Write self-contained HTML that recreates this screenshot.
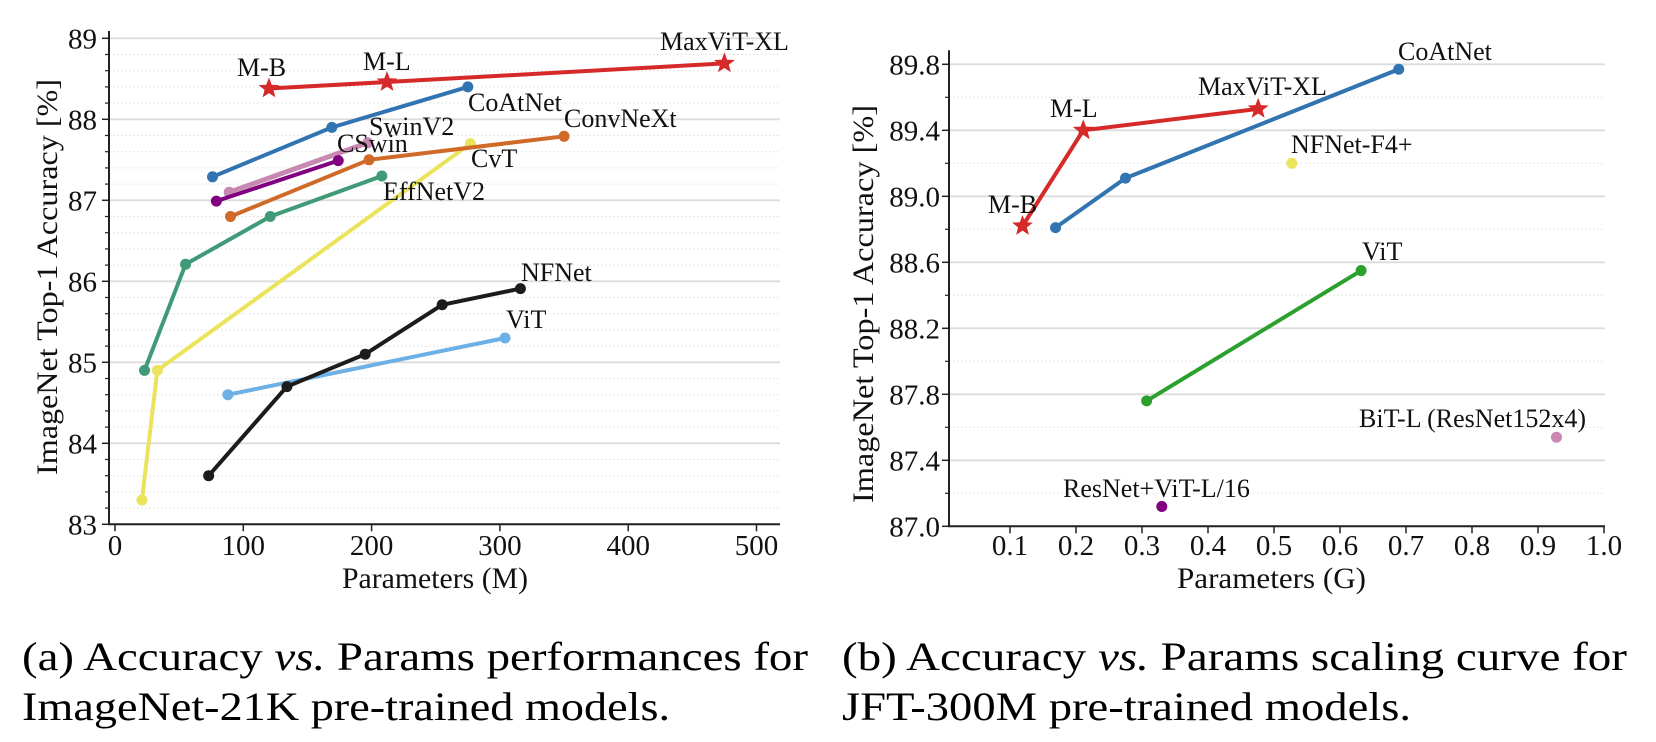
<!DOCTYPE html>
<html><head><meta charset="utf-8"><style>
html,body{margin:0;padding:0;background:#fff;}
svg{display:block;font-family:"Liberation Serif",serif;}
</style></head><body>
<svg id="fig" width="1656" height="742" viewBox="0 0 1656 742" xmlns="http://www.w3.org/2000/svg">
<g id="chartA"></g>
<g id="chartB"></g>
<text x="22" y="670" font-size="40" textLength="786" lengthAdjust="spacingAndGlyphs">(a) Accuracy <tspan font-style="italic">vs.</tspan> Params performances for</text>
<text x="22" y="720" font-size="40" textLength="648" lengthAdjust="spacingAndGlyphs">ImageNet-21K pre-trained models.</text>
<text x="842" y="670" font-size="40" textLength="785" lengthAdjust="spacingAndGlyphs">(b) Accuracy <tspan font-style="italic">vs.</tspan> Params scaling curve for</text>
<text x="842" y="720" font-size="40" textLength="569" lengthAdjust="spacingAndGlyphs">JFT-300M pre-trained models.</text>
</svg>
<script>
// ---- Chart A data (ImageNet-21K) ----
const aNames = ["MaxViT","CoAtNet","SwinV2","CSwin","ConvNeXt","EffNetV2","CvT","NFNet","ViT"];
const aMaxViTX = [120, 212, 475];
const aMaxViTY = [88.38, 88.46, 88.69];
const aCoAtNetX = [76, 169, 275];
const aCoAtNetY = [87.29, 87.90, 88.40];
const aSwinV2X = [89, 197];
const aSwinV2Y = [87.10, 87.71];
const aCSwinX = [79, 174];
const aCSwinY = [86.99, 87.49];
const aConvNeXtX = [90, 198, 350];
const aConvNeXtY = [86.80, 87.50, 87.79];
const aEffNetV2X = [23, 55, 121, 208];
const aEffNetV2Y = [84.90, 86.21, 86.80, 87.30];
const aCvTX = [21, 33, 277];
const aCvTY = [83.30, 84.90, 87.70];
const aNFNetX = [73, 134, 195, 255, 316];
const aNFNetY = [83.60, 84.70, 85.10, 85.71, 85.91];
const aViTX = [88, 304];
const aViTY = [84.60, 85.30];
const aXTicks = [0, 100, 200, 300, 400, 500];
const aYTicks = [83, 84, 85, 86, 87, 88, 89];

// ---- Chart B data (JFT-300M) ----
const bMaxViTX = [0.119, 0.211, 0.476];
const bMaxViTY = [88.82, 89.40, 89.53];
const bCoAtNetX = [0.169, 0.275, 0.689];
const bCoAtNetY = [88.81, 89.11, 89.77];
const bViTX = [0.307, 0.632];
const bViTY = [87.76, 88.55];
const bNFNetF4X = [0.527];
const bNFNetF4Y = [89.20];
const bBiTX = [0.928];
const bBiTY = [87.54];
const bResViTX = [0.330];
const bResViTY = [87.12];
const bXTicks = [0.1,0.2,0.3,0.4,0.5,0.6,0.7,0.8,0.9,1.0];
const bYTicks = [87.0, 87.4, 87.8, 88.2, 88.6, 89.0, 89.4, 89.8];

const NS = "http://www.w3.org/2000/svg";
function mk(parent, tag, attrs) {
  const el = document.createElementNS(NS, tag);
  for (const k in attrs) el.setAttribute(k, attrs[k]);
  parent.appendChild(el);
  return el;
}
function starPath(cx, cy, R) {
  const r = R * 0.42; let d = "";
  for (let i = 0; i < 10; i++) {
    const rad = i % 2 ? r : R;
    const a = -Math.PI / 2 + i * Math.PI / 5;
    d += (i ? "L" : "M") + (cx + rad * Math.cos(a)).toFixed(1) + "," + (cy + rad * Math.sin(a)).toFixed(1);
  }
  return d + "Z";
}
function drawSeries(g, xs, ys, sx, sy, color, star, name, lw) {
  const sg = mk(g, "g", {});
  
  
  if (xs.length > 1) {
    const pl = mk(sg, "polyline", {points: xs.map((x, i) => sx(x) + "," + sy(ys[i])).join(" "), fill: "none", stroke: color, "stroke-width": lw || 4, "stroke-linejoin": "round", "stroke-linecap": "round"});
    
    
  }
  xs.forEach((x, i) => {
    let m;
    if (star) m = mk(sg, "path", {d: starPath(sx(x), sy(ys[i]), 11), fill: color});
    else m = mk(sg, "circle", {cx: sx(x), cy: sy(ys[i]), r: 5.5, fill: color});
    
    
  });
}
function label(g, x, y, txt, name) {
  const t = mk(g, "text", {x: x, y: y, "font-size": 26, fill: "#111"});
  t.textContent = txt;
  
  
}
function axes(g, o) {
  const {sx, sy, x0, x1, y0, y1, xt, yt, minor, xfmt, yfmt, ylabX, ylabY, xlab, xlabX, xlabLen, ylab, ylabLen, tickR} = o;
  // minor grid
  minor.forEach(v => {
    const l = mk(g, "line", {x1: x0, x2: x1, y1: sy(v), y2: sy(v), stroke: "#dedede", "stroke-width": 1, "stroke-dasharray": "1.5,2.5"});
    
    
    const tk = mk(g, "line", {x1: x0 - 4, x2: x0, y1: sy(v), y2: sy(v), stroke: "#222", "stroke-width": 1.2});
    
    
  });
  yt.forEach(v => {
    const l = mk(g, "line", {x1: x0, x2: x1, y1: sy(v), y2: sy(v), stroke: "#dcdcdc", "stroke-width": 1.8});
    
    
    const tk = mk(g, "line", {x1: x0 - 7, x2: x0, y1: sy(v), y2: sy(v), stroke: "#222", "stroke-width": 1.5});
    
    
    const t = mk(g, "text", {x: tickR, y: sy(v) + 10, "font-size": 29, "text-anchor": "end", fill: "#111"});
    t.textContent = yfmt(v);
    
    
  });
  xt.forEach(v => {
    const tk = mk(g, "line", {x1: sx(v), x2: sx(v), y1: y0, y2: y0 + 7, stroke: "#222", "stroke-width": 1.5});
    
    
    const t = mk(g, "text", {x: sx(v), y: 555, "font-size": 29, "text-anchor": "middle", fill: "#111"});
    t.textContent = xfmt(v);
    
    
  });
  const sp = mk(g, "path", {d: `M${x0},${y1} L${x0},${y0} L${x1},${y0}`, fill: "none", stroke: "#222", "stroke-width": 2});
  
  
  const xl = mk(g, "text", {x: xlabX, y: 588, "font-size": 30, textLength: xlabLen, lengthAdjust: "spacingAndGlyphs", fill: "#111"});
  xl.textContent = xlab;
  
  
  const yl = mk(g, "text", {x: 0, y: 0, "font-size": 30, "text-anchor": "middle", textLength: ylabLen, lengthAdjust: "spacingAndGlyphs", fill: "#111", transform: `translate(${ylabX},${ylabY}) rotate(-90)`});
  yl.textContent = ylab;
  
  
}

// ---- Chart A ----
(function () {
  const g = document.getElementById("chartA");
  const sx = v => 115 + v * 1.283;
  const sy = v => 38.3 + (89 - v) * 81;
  const minorA = [];
  for (let k = 0; k < 30; k++) { const v = 83 + k * 0.2 + 0.2; if (Math.abs(v - Math.round(v)) > 0.05) minorA.push(v); }
  axes(g, {sx, sy, x0: 109, x1: 780, y0: sy(83), y1: sy(89.09), xt: aXTicks, yt: aYTicks, minor: minorA,
    xfmt: v => String(v), yfmt: v => String(v), ylabX: 57, ylabY: 277, xlab: "Parameters (M)", xlabX: 342, xlabLen: 186,
    ylab: "ImageNet Top-1 Accuracy [%]", ylabLen: 396, tickR: 97});
  drawSeries(g, aViTX, aViTY, sx, sy, "#6cb0e6", false, "vit");
  drawSeries(g, aNFNetX, aNFNetY, sx, sy, "#1c1c1c", false, "nfnet");
  drawSeries(g, aCvTX, aCvTY, sx, sy, "#ece35c", false, "cvt");
  drawSeries(g, aEffNetV2X, aEffNetV2Y, sx, sy, "#409a78", false, "effnetv2");
  drawSeries(g, aConvNeXtX, aConvNeXtY, sx, sy, "#cf6a28", false, "convnext");
  drawSeries(g, aSwinV2X, aSwinV2Y, sx, sy, "#c788b2", false, "swinv2", 5);
  drawSeries(g, aCSwinX, aCSwinY, sx, sy, "#800080", false, "cswin");
  drawSeries(g, aCoAtNetX, aCoAtNetY, sx, sy, "#3274b2", false, "coatnet");
  drawSeries(g, aMaxViTX, aMaxViTY, sx, sy, "#d62a2a", true, "maxvit");
  label(g, 237, 76, "M-B", "label-m-b");
  label(g, 363, 70, "M-L", "label-m-l");
  label(g, 660, 50, "MaxViT-XL", "label-maxvit-xl");
  label(g, 468, 111, "CoAtNet", "label-coatnet");
  label(g, 564, 127, "ConvNeXt", "label-convnext");
  label(g, 369, 135, "SwinV2", "label-swinv2");
  label(g, 337, 152, "CSwin", "label-cswin");
  label(g, 471, 167, "CvT", "label-cvt");
  label(g, 383, 200, "EffNetV2", "label-effnetv2");
  label(g, 521, 281, "NFNet", "label-nfnet");
  label(g, 506, 328, "ViT", "label-vit");
})();

// ---- Chart B ----
(function () {
  const g = document.getElementById("chartB");
  const sx = v => 944 + v * 660;
  const sy = v => 64.3 + (89.8 - v) * 165;
  const minorB = [];
  for (let k = 0; k < 7; k++) minorB.push(87.2 + k * 0.4);
  minorB.push(89.8 + 0.2 - 0.2 + 0.0 > 99 ? 0 : 87.2 - 0.4 + 0.4); // placeholder removed below
  minorB.pop();
  axes(g, {sx, sy, x0: 949, x1: 1605, y0: sy(87.0), y1: sy(89.885), xt: bXTicks, yt: bYTicks, minor: minorB,
    xfmt: v => v.toFixed(1), yfmt: v => v.toFixed(1), ylabX: 873, ylabY: 304, xlab: "Parameters (G)", xlabX: 1177, xlabLen: 189,
    ylab: "ImageNet Top-1 Accuracy [%]", ylabLen: 398, tickR: 940});
  drawSeries(g, bViTX, bViTY, sx, sy, "#2ca02c", false, "vit");
  drawSeries(g, bCoAtNetX, bCoAtNetY, sx, sy, "#3274b2", false, "coatnet");
  drawSeries(g, bMaxViTX, bMaxViTY, sx, sy, "#d62a2a", true, "maxvit");
  drawSeries(g, bNFNetF4X, bNFNetF4Y, sx, sy, "#ece35c", false, "nfnet-f4plus");
  drawSeries(g, bBiTX, bBiTY, sx, sy, "#c788b2", false, "bit-l");
  drawSeries(g, bResViTX, bResViTY, sx, sy, "#800080", false, "resnet-vit");
  label(g, 1398, 60, "CoAtNet", "label-coatnet");
  label(g, 1198, 95, "MaxViT-XL", "label-maxvit-xl");
  label(g, 1050, 117, "M-L", "label-m-l");
  label(g, 1291, 153, "NFNet-F4+", "label-nfnet-f4plus");
  label(g, 988, 213, "M-B", "label-m-b");
  label(g, 1362, 260, "ViT", "label-vit");
  label(g, 1359, 427, "BiT-L (ResNet152x4)", "label-bit-l");
  label(g, 1063, 497, "ResNet+ViT-L/16", "label-resnet-vit");
})();
</script>
</body></html>
